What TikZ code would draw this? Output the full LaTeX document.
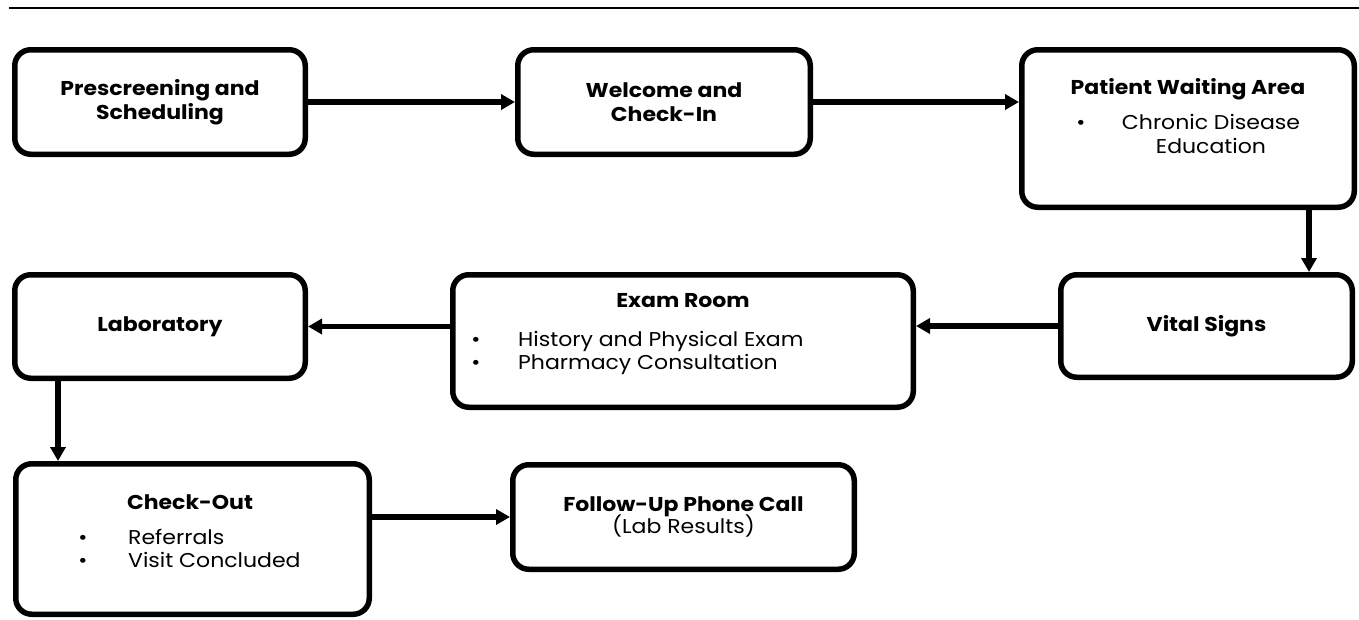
\documentclass[tikz,border=0pt]{standalone}
\usepackage{fontspec}
\setmainfont[FakeStretch=1.1]{Poppins}
\usetikzlibrary{arrows.meta,positioning}

\begin{document}
\begin{tikzpicture}[x=1pt,y=-1pt,
  stage/.style={draw, line width=5.5pt, rounded corners=16pt, inner sep=0pt, align=center,
    font=\fontsize{20}{24}\selectfont\bfseries},
  ttl/.style={font=\fontsize{20}{24}\selectfont\bfseries, anchor=base, inner sep=0pt},
  item/.style={font=\fontsize{20}{24}\selectfont, anchor=base west, inner sep=0pt},
  bul/.style={font=\fontsize{20}{24}\selectfont, anchor=base, inner sep=0pt},
  flow/.style={line width=5.5pt, -{Triangle[length=14pt,width=15pt]}}]
  \useasboundingbox (0,0) rectangle (1359,619);

  % Rule across the top
  \draw[line width=2.5pt] (9,8) -- (1359,8);

  % First row
  \node[stage, minimum width=290.5, minimum height=104.5] (prescreen) at (160,102) {Prescreening and\\Scheduling};
  \node[stage, minimum width=292.5, minimum height=104.5] (welcome) at (664,102) {Welcome and\\Check-In};
  \node[stage, minimum width=332.5, minimum height=157.5] (waiting) at (1188,128.5) {};
  \node[ttl] (waitingttl) at (1188,94) {Patient Waiting Area};
  \node[bul] (waitingb) at (1081,129) {•};
  \node[bul] (waitinga) at (1211,129) {Chronic Disease};
  \node[bul] (waitingc) at (1211,153) {Education};

  % Second row
  \node[stage, minimum width=291.5, minimum height=102.5] (vital) at (1206.5,326) {Vital Signs};
  \node[stage, minimum width=460.5, minimum height=132.5] (exam) at (683,341) {};
  \node[ttl] (examttl) at (683,307) {Exam Room};
  \node[bul] (examb1) at (476,346) {•};
  \node[item] (exama) at (518,346) {History and Physical Exam};
  \node[bul] (examb2) at (476,369) {•};
  \node[item] (examc) at (518,369) {Pharmacy Consultation};
  \node[stage, minimum width=290.5, minimum height=103.5] (lab) at (160,326.5) {Laboratory};

  % Third row
  \node[stage, minimum width=353.5, minimum height=150.5] (checkout) at (192.5,539) {};
  \node[ttl] (checkoutttl) at (190,509) {Check-Out};
  \node[bul] (checkoutb1) at (83,544) {•};
  \node[item] (checkouta) at (128,544) {Referrals};
  \node[bul] (checkoutb2) at (83,567) {•};
  \node[item] (checkoutc) at (128,567) {Visit Concluded};
  \node[stage, minimum width=341.5, minimum height=104.5] (followup) at (683.5,517) {};
  \node[ttl] (followupttl) at (683.5,511) {Follow-Up Phone Call};
  \node[bul] (followupa) at (683.5,533) {(Lab Results)};

  % Connectors
  \draw[flow] (prescreen) -- (welcome);
  \draw[flow] (welcome) -- (waiting.west |- welcome.east);
  \draw[flow] ([xshift=-48]waiting.south east) -- ([xshift=-48]waiting.south east |- vital.north);
  \draw[flow] (vital.west) -- (vital.west -| exam.east);
  \draw[flow] (exam.west |- lab.east) -- (lab.east);
  \draw[flow] ([xshift=46]lab.south west) -- ([xshift=46]lab.south west |- checkout.north);
  \draw[flow] (checkout.east |- followup.west) -- (followup.west);
\end{tikzpicture}
\end{document}
